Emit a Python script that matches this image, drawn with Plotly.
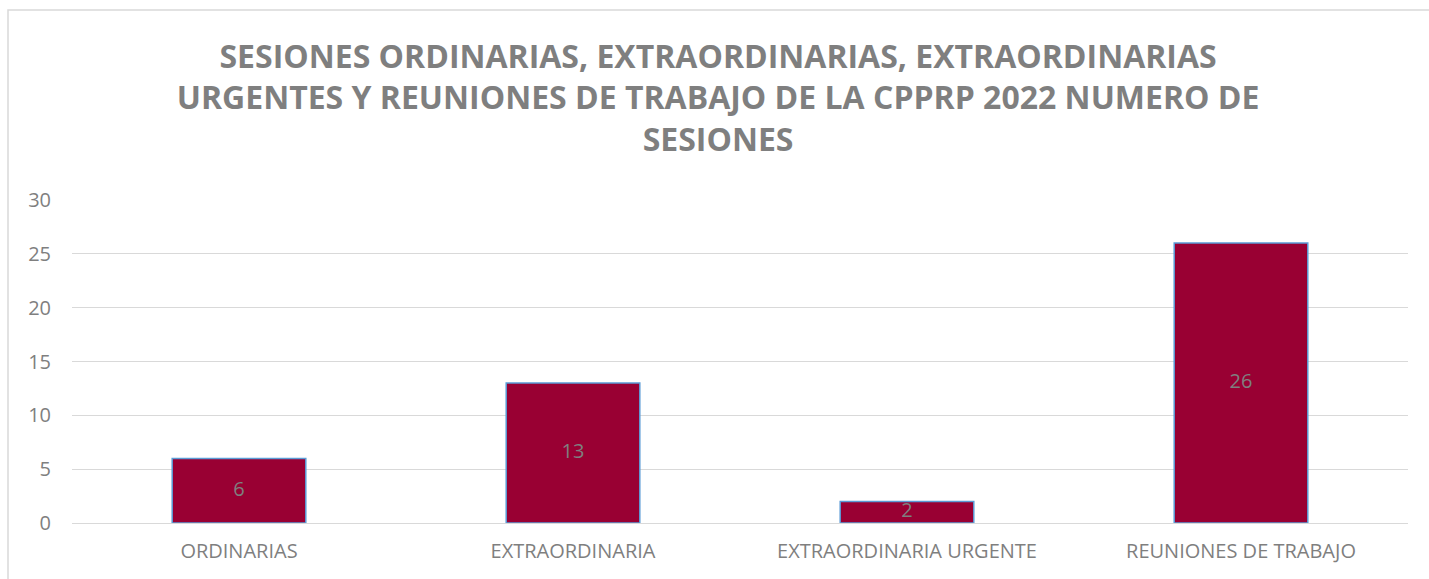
import plotly.graph_objects as go

categories = ["ORDINARIAS", "EXTRAORDINARIA", "EXTRAORDINARIA URGENTE", "REUNIONES DE TRABAJO"]
values = [6, 13, 2, 26]
y_ticks = [0, 5, 10, 15, 20, 25, 30]

title_text = ("<b>SESIONES ORDINARIAS, EXTRAORDINARIAS, EXTRAORDINARIAS<br>"
              "URGENTES Y REUNIONES DE TRABAJO DE LA CPPRP 2022 NUMERO DE<br>"
              "SESIONES</b>")

GRAY = "#7F7F7F"
FONT = "Open Sans"

fig = go.Figure()
fig.add_trace(go.Bar(
    x=categories, y=values,
    marker=dict(color="#990033", line=dict(color="#5B9BD5", width=1.5)),
    hoverinfo="skip",
))
fig.add_trace(go.Scatter(
    x=categories, y=[v / 2 for v in values],
    mode="text", text=[str(v) for v in values],
    textfont=dict(family=FONT, size=20, color=GRAY),
    textposition="middle center", hoverinfo="skip", cliponaxis=False,
))

fig.update_layout(
    width=1429, height=579,
    margin=dict(l=72, r=21, t=200, b=56),
    paper_bgcolor="white", plot_bgcolor="white",
    showlegend=False,
    bargap=0.6,
    title=dict(text=title_text, x=0.5025, xanchor="center", y=0.883, yanchor="top",
               font=dict(family=FONT, size=32, color=GRAY)),
    font=dict(family=FONT, size=20, color=GRAY),
    xaxis=dict(showgrid=False, showline=False, ticks="", ticklabelstandoff=14,
               tickfont=dict(size=20, color=GRAY)),
    yaxis=dict(range=[0, 30], tickvals=y_ticks, showgrid=True, gridcolor="#D9D9D9",
               gridwidth=1, zeroline=True, zerolinecolor="#D9D9D9", zerolinewidth=1,
               showline=False, ticks="", ticklabelstandoff=20,
               tickfont=dict(size=20, color=GRAY)),
    shapes=[dict(type="rect", xref="paper", yref="paper",
                 x0=(8 - 72) / 1336, x1=1.05, y0=-0.5, y1=1 + (200 - 10) / 323,
                 line=dict(color="#D9D9D9", width=1.5), layer="below")],
)

fig.write_html("out.html", config={"displayModeBar": False},
               post_script="document.body.style.margin='0';")
